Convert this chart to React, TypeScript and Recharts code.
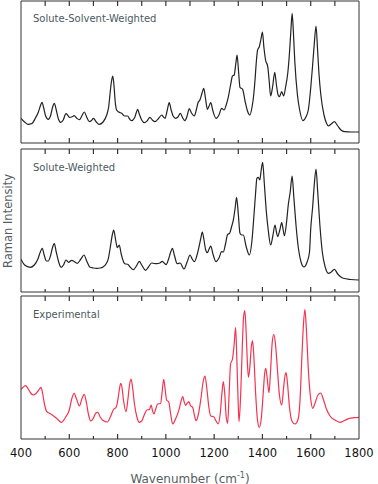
import { ComposedChart, Line, XAxis, YAxis } from 'recharts'

// wavenumber axis (cm-1)
const xTicksTop = [500, 600, 700, 800, 900, 1000, 1100, 1200, 1300, 1400, 1500, 1600, 1700]
const xTicksMajor = [400, 600, 800, 1000, 1200, 1400, 1600, 1800]
const xTicksInnerMajor = [600, 800, 1000, 1200, 1400, 1600]
const xTicksMinor = [500, 700, 900, 1100, 1300, 1500, 1700]

// Solute-Solvent-Weighted
const ssWn = [400, 415, 430, 445, 460, 472, 480, 487, 494, 502, 513, 522, 530, 538, 546, 555, 564, 575, 586, 593, 600, 610, 620, 630, 642, 652, 662, 672, 683, 692, 700, 712, 724, 740, 755, 763, 770, 775, 780, 785, 790, 796, 805, 817, 830, 842, 850, 858, 870, 877, 883, 890, 900, 911, 922, 934, 944, 955, 968, 983, 990, 997, 1005, 1014, 1022, 1030, 1041, 1050, 1060, 1070, 1079, 1088, 1097, 1106, 1118, 1126, 1134, 1141, 1150, 1157, 1164, 1172, 1179, 1186, 1195, 1208, 1220, 1231, 1241, 1250, 1259, 1268, 1276, 1283, 1290, 1295, 1301, 1307, 1318, 1328, 1338, 1348, 1357, 1363, 1369, 1375, 1380, 1387, 1394, 1400, 1406, 1413, 1422, 1428, 1434, 1442, 1451, 1458, 1465, 1470, 1480, 1488, 1496, 1505, 1512, 1518, 1523, 1528, 1534, 1545, 1555, 1568, 1580, 1590, 1600, 1608, 1615, 1622, 1628, 1634, 1642, 1655, 1665, 1673, 1685, 1698, 1712, 1725, 1740, 1770, 1800]
const ssInt = [24.7, 21, 18.7, 19.5, 25, 31, 37, 40.7, 35, 27, 23.7, 27, 35, 39.7, 33, 24, 20.7, 23, 29.3, 28, 25.7, 26, 27.3, 25, 23.3, 27, 31, 26, 21.3, 22.5, 24.7, 21, 18.7, 21, 28, 36, 52, 62, 67, 58, 42, 33, 31, 29.7, 27, 27, 24, 22.3, 25, 30, 33.7, 29, 23, 20.3, 22, 25.7, 23, 21.3, 24, 28, 26, 24.7, 32, 40.3, 33, 27, 24.7, 26, 29.7, 25, 22.3, 27, 34.3, 30, 27, 33, 40.7, 43, 50, 54.7, 45, 33.7, 37, 40.3, 32, 24.7, 28, 34.7, 33, 38, 46.3, 58, 67, 68, 80, 88, 72, 55.7, 53.7, 42, 32, 28, 36, 46, 62, 82, 93, 96.3, 104, 111, 96, 83, 76.3, 62, 47, 56, 70.7, 58, 48, 46.3, 51.3, 47, 56, 70, 90, 113, 129.7, 112, 82, 48, 32, 22.3, 26, 33, 55, 78, 100, 117, 95, 70, 48, 28, 20, 17, 19, 21.3, 17, 13, 11.3, 11, 11]

// Solute-Weighted
const swWn = [400, 415, 438, 455, 470, 480, 488, 496, 505, 513, 522, 530, 538, 546, 556, 566, 576, 586, 597, 610, 620, 633, 648, 661, 672, 686, 700, 713, 728, 741, 752, 762, 770, 778, 784, 792, 799, 807, 815, 830, 842, 852, 865, 878, 890, 900, 916, 928, 941, 952, 962, 975, 985, 993, 1001, 1010, 1020, 1027, 1035, 1047, 1059, 1075, 1088, 1100, 1109, 1118, 1128, 1138, 1145, 1151, 1158, 1165, 1172, 1179, 1186, 1195, 1208, 1220, 1231, 1238, 1247, 1256, 1264, 1272, 1280, 1287, 1293, 1300, 1307, 1314, 1321, 1332, 1346, 1356, 1366, 1372, 1377, 1383, 1389, 1395, 1401, 1408, 1415, 1424, 1434, 1443, 1452, 1458, 1463, 1472, 1480, 1486, 1491, 1500, 1507, 1515, 1523, 1530, 1539, 1550, 1560, 1572, 1585, 1595, 1600, 1608, 1615, 1622, 1629, 1639, 1648, 1660, 1673, 1685, 1698, 1712, 1725, 1735, 1765, 1800]
const swInt = [32.7, 27, 24.7, 27, 33, 40, 43.7, 37, 31, 31, 36, 44, 48.3, 40, 30, 24.7, 27, 32, 29.7, 31.7, 30.5, 28.7, 33, 37, 31, 24.7, 24, 23.7, 24, 25.3, 28, 33.7, 45, 57, 62, 52, 44.3, 47, 38, 28.3, 27.7, 25, 22.3, 26, 30.7, 27, 21.7, 25, 29, 28.5, 28.3, 29, 30.7, 29, 27.3, 32, 40, 43.7, 37, 28.3, 29, 23, 30, 37, 33, 30.3, 36, 46, 54, 60, 52, 42, 39.3, 43, 46, 38, 30.3, 34, 40.3, 40, 48, 57.7, 58.7, 65, 72.7, 84, 94.7, 78, 58.7, 57, 57, 46, 37, 50, 80.3, 100, 113.7, 114.7, 112, 122, 129.7, 108, 83.7, 62, 47, 56, 67, 60, 55.3, 62, 69.3, 62, 56.3, 70, 87, 100, 116, 95, 67, 42, 30, 25, 30, 40, 63, 85, 108, 123, 100, 63.7, 40, 25, 18.7, 20, 22.7, 18, 15, 13.7, 12.5, 12]

// Experimental
const exWn = [400, 410, 419, 430, 440, 451, 462, 472, 483, 490, 498, 506, 520, 534, 550, 568, 585, 600, 610, 620, 630, 642, 652, 662, 672, 680, 689, 700, 710, 718, 728, 740, 758, 770, 782, 795, 803, 809, 813, 818, 825, 835, 843, 850, 856, 862, 870, 880, 890, 900, 912, 921, 932, 939, 945, 951, 958, 966, 978, 985, 991, 997, 1003, 1012, 1020, 1028, 1040, 1056, 1063, 1070, 1076, 1082, 1089, 1095, 1103, 1111, 1118, 1125, 1135, 1145, 1155, 1162, 1170, 1178, 1186, 1198, 1208, 1217, 1225, 1232, 1238, 1244, 1250, 1256, 1262, 1268, 1276, 1283, 1289, 1294, 1299, 1303, 1310, 1317, 1322, 1327, 1332, 1337, 1342, 1348, 1354, 1359, 1365, 1372, 1380, 1387, 1395, 1403, 1409, 1414, 1420, 1427, 1433, 1440, 1447, 1454, 1462, 1470, 1480, 1488, 1494, 1498, 1504, 1512, 1522, 1535, 1548, 1556, 1563, 1570, 1576, 1582, 1590, 1600, 1608, 1618, 1630, 1641, 1652, 1665, 1680, 1700, 1721, 1740, 1760, 1780, 1800]
const exInt = [49.7, 52, 53.3, 50, 46, 44, 45.5, 48.5, 51.7, 45, 34, 27.7, 25.5, 23.3, 20, 16.7, 22, 29, 40, 45.7, 40, 33, 40, 44.7, 35, 24, 18, 21, 26, 26.7, 22, 18.5, 17, 22, 29, 32.3, 42, 52, 55.7, 52, 38, 27.3, 40, 55, 60, 52, 35, 22, 16.7, 18, 25, 29, 29.5, 34, 28, 25, 30, 35, 35.5, 48, 59.7, 50, 39, 37, 25, 15, 20, 30.7, 38, 42.3, 37, 33.7, 36, 37.3, 33, 31.7, 24, 18.3, 25, 40, 58, 63, 50, 32, 23, 22.3, 18, 15, 25, 45, 57.3, 45, 22, 15.7, 45, 75, 80, 95, 111.3, 80, 40, 17.3, 45, 95, 122, 128.3, 110, 80, 61.7, 72, 92, 98.3, 80, 45, 18, 11.7, 20, 45, 65, 70.7, 60, 46.3, 65, 95, 104.7, 95, 70, 45, 34, 52, 64, 66.3, 55, 32, 18, 15, 20, 40, 80, 115, 129.7, 110, 70, 40, 30.7, 36, 44, 46, 40, 30, 23, 19, 16.7, 18.5, 20.7, 21.3, 21.7]

const zip = (wn: number[], v: number[]) => wn.map((w, i) => ({ wn: w, v: v[i] }))

const FONT = '"DejaVu Sans", Verdana, sans-serif'
const FRAME = '#333'

interface PanelProps {
  wn: number[];
  values: number[];
  yMax: number;
  color: string;
  labels?: boolean;
}

function Panel({ wn, values, yMax, color, labels }: PanelProps) {
  const data = zip(wn, values)
  const height = labels ? 1 + yMax + 20 + 4 : 1 + yMax + 1
  // inward tick marks as short two-point segments (one y unit = one pixel)
  const marks = [
    ...xTicksTop.map((t) => ({ id: `t${t}`, pts: [{ wn: t, v: yMax }, { wn: t, v: yMax - 5 }] })),
    ...xTicksInnerMajor.map((t) => ({ id: `b${t}`, pts: [{ wn: t, v: 0 }, { wn: t, v: 5 }] })),
    ...xTicksMinor.map((t) => ({ id: `m${t}`, pts: [{ wn: t, v: 0 }, { wn: t, v: 3 }] })),
  ]
  return (
    <ComposedChart width={378} height={height} margin={{ top: 1, right: 19, left: 21, bottom: labels ? 4 : 1 }}>
      <XAxis xAxisId="x" dataKey="wn" type="number" domain={[400, 1800]} allowDataOverflow orientation="bottom" mirror
        ticks={xTicksMajor} tick={false} tickLine={false} stroke={FRAME} />
      <XAxis xAxisId="xt" dataKey="wn" type="number" domain={[400, 1800]} allowDataOverflow orientation="top" mirror
        ticks={xTicksMajor} tick={false} tickLine={false} stroke={FRAME} />
      {labels && (
        <XAxis xAxisId="lab" dataKey="wn" type="number" domain={[400, 1800]} allowDataOverflow orientation="bottom"
          height={20} ticks={xTicksMajor} interval={0} axisLine={false} tickLine={false} tickSize={0} tickMargin={10}
          tick={{ fontSize: 11.5, fill: '#111', fontFamily: FONT }} />
      )}
      <YAxis yAxisId="l" type="number" domain={[0, yMax]} allowDataOverflow orientation="left" mirror
        tick={false} tickLine={false} stroke={FRAME} />
      <YAxis yAxisId="r" type="number" domain={[0, yMax]} allowDataOverflow orientation="right" mirror
        tick={false} tickLine={false} stroke={FRAME} />
      {marks.map((m) => (
        <Line key={m.id} xAxisId="x" yAxisId="l" data={m.pts} type="linear" dataKey="v" stroke={FRAME}
          strokeWidth={1.2} dot={false} activeDot={false} isAnimationActive={false} />
      ))}
      <Line xAxisId="x" yAxisId="l" data={data} type="monotone" dataKey="v" stroke={color} strokeWidth={1.2}
        dot={false} activeDot={false} isAnimationActive={false} />
    </ComposedChart>
  )
}

const titleStyle = (top: number): React.CSSProperties => ({
  position: 'absolute', left: 33, top, fontFamily: FONT, fontSize: 10, lineHeight: '12px', color: '#4b5a60', whiteSpace: 'nowrap',
})

export default function App() {
  return (
    <div style={{ position: 'absolute', left: 0, top: 0, width: 378, height: 484, background: '#fff', overflow: 'hidden' }}>
      <div style={{ position: 'absolute', left: 0, top: 0 }}>
        <Panel wn={ssWn} values={ssInt} yMax={142} color="#222" />
      </div>
      <div style={{ position: 'absolute', left: 0, top: 148 }}>
        <Panel wn={swWn} values={swInt} yMax={143} color="#222" />
      </div>
      <div style={{ position: 'absolute', left: 0, top: 295 }}>
        <Panel wn={exWn} values={exInt} yMax={143} color="#f5324f" labels />
      </div>
      <div style={titleStyle(13)}>Solute-Solvent-Weighted</div>
      <div style={titleStyle(162)}>Solute-Weighted</div>
      <div style={titleStyle(309)}>Experimental</div>
      <div style={{
        position: 'absolute', left: 8, top: 221, transform: 'translate(-50%, -50%) rotate(-90deg)',
        fontFamily: FONT, fontSize: 11.5, color: '#555d62', whiteSpace: 'nowrap',
      }}>Raman Intensity</div>
      <div style={{
        position: 'absolute', left: 190, top: 478, transform: 'translate(-50%, -50%)',
        fontFamily: FONT, fontSize: 12, color: '#555d62', whiteSpace: 'nowrap',
      }}>Wavenumber (cm<sup style={{ fontSize: 8 }}>-1</sup>)</div>
    </div>
  )
}
